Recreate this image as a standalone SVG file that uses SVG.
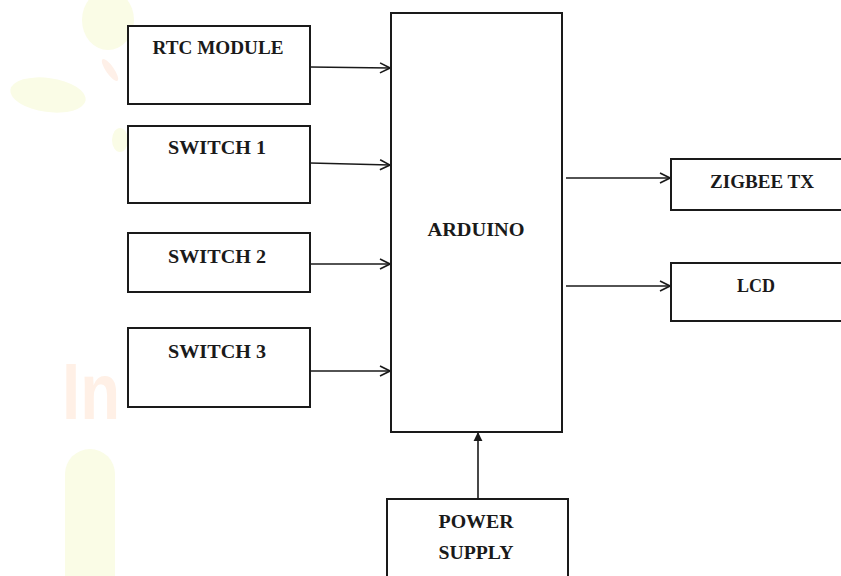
<svg xmlns="http://www.w3.org/2000/svg" width="841" height="576" viewBox="0 0 841 576">
<style>
.box{fill:#fff;stroke:#1a1a1a;stroke-width:2}
.lbl{font-family:"Liberation Serif","DejaVu Serif",serif;font-weight:bold;font-size:19px;fill:#1a1a1a;text-anchor:middle}
.con{stroke:#1a1a1a;stroke-width:1.6;fill:none}
.wm{fill:#fafce6}
</style>
<defs>
<marker id="open" viewBox="0 0 12 12" refX="11" refY="6" markerWidth="12" markerHeight="12" markerUnits="userSpaceOnUse" orient="auto">
<path d="M1,1 L11,6 L1,11" fill="none" stroke="#1a1a1a" stroke-width="1.6"/>
</marker>
<marker id="solid" viewBox="0 0 10 10" refX="9" refY="5" markerWidth="9" markerHeight="10" markerUnits="userSpaceOnUse" orient="auto">
<path d="M0,0 L10,5 L0,10 Z" fill="#1a1a1a"/>
</marker>
</defs>
<g id="watermark">
<ellipse class="wm" cx="108" cy="20" rx="26" ry="30"/>
<ellipse class="wm" cx="48" cy="95" rx="38" ry="17" transform="rotate(8 48 95)"/>
<ellipse cx="110" cy="70" rx="4" ry="13" fill="#fef0e8" transform="rotate(-35 110 70)"/>
<ellipse class="wm" cx="120" cy="140" rx="8" ry="12"/>
<text x="62" y="419" font-family="Liberation Sans,Arial,sans-serif" font-weight="bold" font-size="80" fill="#fff0e6" textLength="58" lengthAdjust="spacingAndGlyphs">In</text>
<path class="wm" d="M65,576 L65,474 A25,25 0 0 1 115,474 L115,576 Z"/>
</g>
<g id="connectors">
<line class="con" x1="310" y1="67" x2="390" y2="68" marker-end="url(#open)"/>
<line class="con" x1="310" y1="163" x2="390" y2="165" marker-end="url(#open)"/>
<line class="con" x1="310" y1="264" x2="390" y2="264" marker-end="url(#open)"/>
<line class="con" x1="310" y1="371" x2="390" y2="371" marker-end="url(#open)"/>
<line class="con" x1="566" y1="178" x2="670" y2="178" marker-end="url(#open)"/>
<line class="con" x1="566" y1="286" x2="670" y2="286" marker-end="url(#open)"/>
<line class="con" x1="478" y1="499" x2="478" y2="433" marker-end="url(#solid)"/>
</g>
<g id="rtc"><rect class="box" x="128" y="26" width="182" height="78"/><text class="lbl" x="218" y="54" textLength="131" lengthAdjust="spacingAndGlyphs">RTC MODULE</text></g>
<g id="switch1"><rect class="box" x="128" y="126" width="182" height="77"/><text class="lbl" x="217" y="154" textLength="98" lengthAdjust="spacingAndGlyphs">SWITCH 1</text></g>
<g id="switch2"><rect class="box" x="128" y="233" width="182" height="59"/><text class="lbl" x="217" y="263" textLength="98" lengthAdjust="spacingAndGlyphs">SWITCH 2</text></g>
<g id="switch3"><rect class="box" x="128" y="328" width="182" height="79"/><text class="lbl" x="217" y="358" textLength="98" lengthAdjust="spacingAndGlyphs">SWITCH 3</text></g>
<g id="arduino"><rect class="box" x="391" y="13" width="171" height="419"/><text class="lbl" x="476" y="236" textLength="97" lengthAdjust="spacingAndGlyphs">ARDUINO</text></g>
<g id="zigbee"><rect class="box" x="671" y="159" width="180" height="51"/><text class="lbl" x="762" y="188" textLength="104" lengthAdjust="spacingAndGlyphs">ZIGBEE TX</text></g>
<g id="lcd"><rect class="box" x="671" y="263" width="180" height="58"/><text class="lbl" x="756" y="292" textLength="38" lengthAdjust="spacingAndGlyphs">LCD</text></g>
<g id="power"><rect class="box" x="387" y="499" width="181" height="90"/><text class="lbl" x="476" y="528" textLength="75" lengthAdjust="spacingAndGlyphs">POWER</text><text class="lbl" x="476" y="559" textLength="75" lengthAdjust="spacingAndGlyphs">SUPPLY</text></g>
</svg>
